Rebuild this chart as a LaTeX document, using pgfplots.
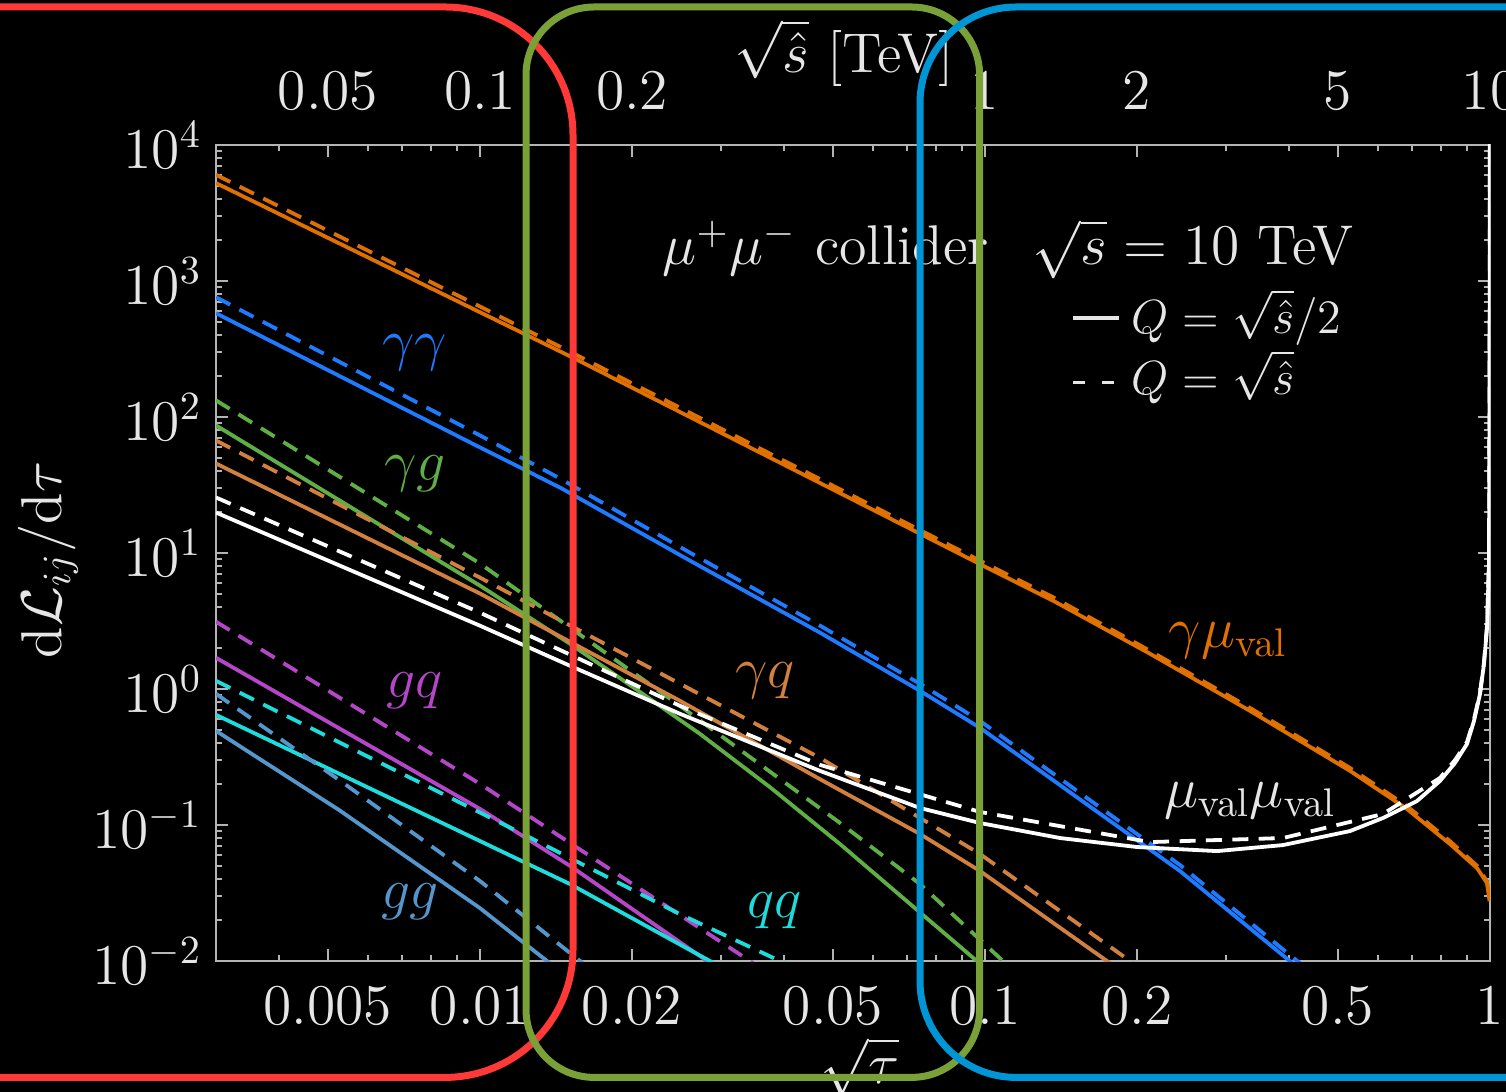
\documentclass[border=0pt]{standalone}
\usepackage{pgfplots}
\pgfplotsset{compat=1.18}

\definecolor{cmuval}{HTML}{E07000}
\definecolor{cgaga}{HTML}{1E7BFF}
\definecolor{cgag}{HTML}{5FAF46}
\definecolor{cgaq}{HTML}{D28040}
\definecolor{cgq}{HTML}{B446C8}
\definecolor{cqq}{HTML}{1EDCDC}
\definecolor{cgg}{HTML}{5596CD}
\definecolor{axcol}{HTML}{B4B4B4}
\definecolor{lbl}{HTML}{E6E6E6}
\definecolor{boxred}{HTML}{FF3838}
\definecolor{boxgreen}{HTML}{7AA038}
\definecolor{boxblue}{HTML}{0096D6}

\pgfplotsset{
  dsh/.style={dash pattern=on 4pt off 2.6pt},
  lumiframe/.style={
    at={(0pt,0pt)}, anchor=south west,
    scale only axis, width=318.5pt, height=204pt,
    tick label style={text=lbl, font=\fontsize{14}{16.8}\selectfont},
  },
}

\begin{document}
\begin{tikzpicture}[font=\fontsize{14}{16.8}\selectfont]
\fill[black] (-60pt,-40pt) rectangle (330pt,250pt);

\begin{axis}[
  lumiframe,
  xmode=log, ymode=log,
  xmin=0.003, xmax=1, ymin=1e-2, ymax=1e4,
  axis line style={axcol, line width=0.5pt},
  every tick/.style={axcol, line width=0.5pt},
  tick align=inside,
  major tick length=3pt, minor tick length=1.6pt,
  xtick={0.005,0.01,0.02,0.05,0.1,0.2,0.5,1},
  xticklabels={$0.005$,$0.01$,$0.02$,$0.05$,$0.1$,$0.2$,$0.5$,$1$},
  minor xtick={0.004,0.006,0.007,0.008,0.009,0.03,0.04,0.06,0.07,0.08,0.09,0.3,0.4,0.6,0.7,0.8,0.9},
  xticklabel pos=bottom,
  xticklabel style={yshift=-3.1pt},
  ytick={1e-2,1e-1,1,10,100,1000,10000},
  yticklabels={$10^{-2}$,$10^{-1}$,$10^{0}$,$10^{1}$,$10^{2}$,$10^{3}$,$10^{4}$},
  minor ytick={0.02,0.03,0.04,0.05,0.06,0.07,0.08,0.09,
               0.2,0.3,0.4,0.5,0.6,0.7,0.8,0.9,
               2,3,4,5,6,7,8,9,20,30,40,50,60,70,80,90,
               200,300,400,500,600,700,800,900,
               2000,3000,4000,5000,6000,7000,8000,9000},
  every axis plot/.append style={line width=0.95pt},
]

% gamma mu_val
\addplot[cmuval] coordinates {(0.003,5248) (0.01,589) (0.01521,275) (0.1037,7.41) (0.1364,4.46) (0.2122,1.816) (0.3347,0.691) (0.5283,0.250) (0.6847,0.1312) (0.8333,0.0724) (0.9425,0.0482) (0.9864,0.0374) (0.998,0.0275)};
\addplot[cmuval,dsh] coordinates {(0.003,6035) (0.01,648) (0.01521,297) (0.1037,7.85) (0.1364,4.73) (0.2122,1.907) (0.3347,0.726) (0.5283,0.2625) (0.6847,0.1378) (0.8333,0.0760) (0.9425,0.0501) (0.9864,0.0385) (0.998,0.0283)};

% gamma gamma
\addplot[cgaga] coordinates {(0.003,579.6) (0.01,59.7) (0.0144,30.3) (0.02604,8.79) (0.04714,2.594) (0.07434,0.970) (0.09775,0.518) (0.2432,0.0459) (0.4018,0.00997) (0.4206,0.0087)};
\addplot[cgaga,dsh] coordinates {(0.003,760) (0.01,73.2) (0.0144,35.3) (0.02604,10.06) (0.04714,2.921) (0.07434,1.092) (0.09775,0.583) (0.2432,0.0508) (0.4018,0.01104) (0.4206,0.00963)};

% gamma g
\addplot[cgag] coordinates {(0.003,86.7) (0.01,5.75) (0.01507,2.152) (0.0205,0.98) (0.02726,0.4677) (0.0375,0.19) (0.05163,0.0724) (0.09643,0.00997) (0.1023,0.00827)};
\addplot[cgag,dsh] coordinates {(0.003,132.5) (0.01,8.36) (0.02489,0.752) (0.05163,0.1035) (0.07434,0.0368) (0.1085,0.01) (0.1147,0.00827)};

% gamma q
\addplot[cgaq] coordinates {(0.003,45.5) (0.01,5.03) (0.01507,2.226) (0.02489,0.8187) (0.04714,0.2170) (0.07434,0.0859) (0.09775,0.0459) (0.1744,0.01) (0.185,0.00855)};
\addplot[cgaq,dsh] coordinates {(0.003,67.2) (0.01,6.59) (0.02489,1.092) (0.04714,0.3113) (0.09775,0.0612) (0.1937,0.01) (0.2073,0.00827)};

% mu_val mu_val
\addplot[white] coordinates {(0.003,19.84) (0.01,2.920) (0.01507,1.482) (0.02489,0.6570) (0.04714,0.2498) (0.07434,0.1334) (0.09775,0.1034) (0.1408,0.0802) (0.2,0.0689) (0.288,0.0643) (0.3892,0.0712) (0.5283,0.0903) (0.6139,0.1126) (0.7167,0.150) (0.7962,0.211) (0.8524,0.286) (0.9005,0.395) (0.9296,0.583) (0.9555,0.922) (0.9730,1.535) (0.9864,2.82) (0.9954,8.79) (0.998,200) (0.9995,30000)};
\addplot[white,dsh] coordinates {(0.003,25.6) (0.01,3.64) (0.02489,0.752) (0.04714,0.2767) (0.09775,0.1247) (0.2122,0.0749) (0.3892,0.0802) (0.6139,0.1205) (0.7962,0.222) (0.8524,0.30) (0.9005,0.408) (0.9296,0.60) (0.9555,0.938) (0.9730,1.58) (0.9864,2.9) (0.9954,9.0) (0.998,210) (0.9995,30000)};

% g q
\addplot[cgq] coordinates {(0.003,1.697) (0.01,0.1312) (0.01521,0.0490) (0.02815,0.01) (0.02987,0.00855)};
\addplot[cgq,dsh] coordinates {(0.003,3.125) (0.01,0.2004) (0.03424,0.01) (0.03634,0.00855)};

% q q
\addplot[cqq] coordinates {(0.003,0.6457) (0.01,0.0762) (0.01507,0.0368) (0.02853,0.01) (0.03056,0.00855)};
\addplot[cqq,dsh] coordinates {(0.003,1.149) (0.01216,0.0859) (0.02489,0.0221) (0.03926,0.01) (0.04263,0.00855)};

% g g
\addplot[cgg] coordinates {(0.003,0.4922) (0.005257,0.1290) (0.01,0.02447) (0.01357,0.01) (0.0142,0.0087)};
\addplot[cgg,dsh] coordinates {(0.003,0.922) (0.005257,0.2145) (0.01,0.0387) (0.01578,0.01) (0.01651,0.0087)};

% channel labels
\node[text=cgaga] at (axis cs:0.00743,299) {$\gamma\gamma$};
\node[text=cgag]  at (axis cs:0.00743,38.5) {$\gamma g$};
\node[text=cgq]   at (axis cs:0.00743,0.970) {$gq$};
\node[text=cgg]   at (axis cs:0.00727,0.0275) {$gg$};
\node[text=cqq]   at (axis cs:0.03838,0.0233) {$qq$};
\node[text=cgaq]  at (axis cs:0.03667,1.149) {$\gamma q$};
\node[text=cmuval] at (axis cs:0.3029,2.265) {$\gamma\mu_{\mathrm{val}}$};
\node[text=lbl]   at (axis cs:0.3347,0.150) {$\mu_{\mathrm{val}}\mu_{\mathrm{val}}$};
\end{axis}

% upper scale: partonic energy in TeV
\begin{axis}[
  lumiframe,
  xmode=log, xmin=0.03, xmax=10, ymin=0, ymax=1,
  axis x line*=top, hide y axis,
  x axis line style={draw=none},
  major tick length=0pt, minor tick length=0pt,
  xtick={0.05,0.1,0.2,1,2,5,10},
  xticklabels={$0.05$,$0.1$,$0.2$,$1$,$2$,$5$,$10$},
  minor xtick={},
  xticklabel style={yshift=5.3pt},
]
\end{axis}

% axis titles
\node[text=lbl] at (157pt,227pt) {$\sqrt{\hat{s}}$ [TeV]};
\node[text=lbl, anchor=base] at (161pt,-30.5pt) {$\sqrt{\tau}$};
\node[text=lbl, rotate=90] at (-42pt,100.25pt) {$\mathrm{d}\mathcal{L}_{ij}/\mathrm{d}\tau$};

% setup and scale legend
\node[text=lbl, anchor=base west, inner sep=0pt] at (111.5pt,174pt) {$\mu^+\mu^-$ collider\hspace{11pt}$\sqrt{s}=10$ TeV};
\node[text=lbl, anchor=base west, inner sep=0pt, font=\fontsize{13}{15.6}\selectfont] at (214pt,156.75pt)
  {\makebox[14.75pt][l]{\rule[3.6pt]{11.5pt}{0.8pt}}$Q=\sqrt{\hat{s}}/2$};
\node[text=lbl, anchor=base west, inner sep=0pt, font=\fontsize{13}{15.6}\selectfont] at (214pt,141.5pt)
  {\makebox[14.75pt][l]{\rule[2.8pt]{3pt}{0.8pt}\hspace{4.3pt}\rule[2.8pt]{3pt}{0.8pt}}$Q=\sqrt{\hat{s}}$};

% highlighted regions
\draw[boxred, line width=1.75pt, rounded corners=32pt]
  (-90pt,238.5pt) -- (89.25pt,238.5pt) -- (89.25pt,-29.1pt) -- (-90pt,-29.1pt);
\draw[boxgreen, line width=1.75pt, rounded corners=17pt]
  (77.5pt,238.5pt) rectangle (190.9pt,-29.1pt);
\draw[boxblue, line width=1.75pt, rounded corners=24pt]
  (360pt,238.5pt) -- (176pt,238.5pt) -- (176pt,-29.1pt) -- (360pt,-29.1pt);

\pgfresetboundingbox
\path[use as bounding box] (-54pt,-32.5pt) rectangle (322.5pt,240.25pt);
\end{tikzpicture}
\end{document}
